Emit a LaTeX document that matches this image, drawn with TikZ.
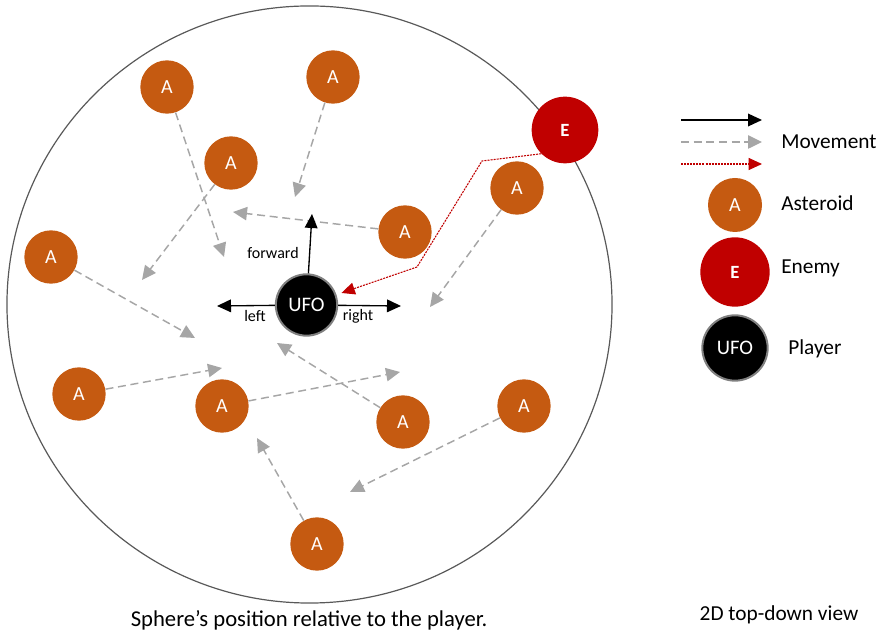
\documentclass[tikz,border=0pt]{standalone}
\usepackage{fontspec}
\setmainfont{Carlito}
\usepackage{xcolor}
\usepackage{tikz}
\usetikzlibrary{arrows.meta}

\definecolor{astorange}{HTML}{C55A11}
\definecolor{enemyred}{HTML}{C00000}
\definecolor{movegray}{HTML}{A6A6A6}
\definecolor{ringgray}{HTML}{595959}
\newcommand{\lgfont}{\fontsize{16}{19}\selectfont}

\begin{document}
\begin{tikzpicture}[x=0.75pt, y=-0.75pt,
  asteroid/.style={circle, fill=astorange, inner sep=0pt, minimum size=40pt, text=white, font=\fontsize{15}{18}\selectfont},
  enemy/.style={circle, fill=enemyred, inner sep=0pt, minimum size=50pt, text=white, font=\fontsize{14}{17}\selectfont\bfseries},
  player/.style={circle, fill=black, draw=gray, line width=1.5pt, inner sep=0pt, minimum size=46pt, text=white, font=\fontsize{15.5}{18}\selectfont},
  grayarrow/.style={movegray, line width=1.1pt, dash pattern=on 6pt off 3.5pt, -{Triangle[length=10.5pt, width=10pt]}},
  redarrow/.style={enemyred, line width=0.8pt, dash pattern=on 1.5pt off 0.8pt, -{Triangle[length=10pt, width=9pt]}},
  blackarrow/.style={black, line width=1pt, -{Triangle[length=10.5pt, width=9.5pt]}},
  dirlabel/.style={font=\fontsize{12}{14}\selectfont},
  lglabel/.style={anchor=west, inner sep=0pt, font=\lgfont}]
  \useasboundingbox (0,0) rectangle (876,630);

  % Sphere around the player
  \draw[ringgray, line width=0.9pt] (309.5,304.5) ellipse [x radius=226.9pt, y radius=223.9pt];

  % Asteroids
  \node[asteroid] (a1) at (167,87) {A};
  \node[asteroid] (a2) at (333,77) {A};
  \node[asteroid] (a3) at (231,163) {A};
  \node[asteroid] (a4) at (517,188) {A};
  \node[asteroid] (a5) at (405,232) {A};
  \node[asteroid] (a6) at (51,257) {A};
  \node[asteroid] (a7) at (79,394) {A};
  \node[asteroid] (a8) at (222,406) {A};
  \node[asteroid] (a9) at (403,422) {A};
  \node[asteroid] (a10) at (524,406) {A};
  \node[asteroid] (a11) at (317,544) {A};

  % Enemy and player
  \node[enemy] (enemy) at (565,130) {E};
  \node[player] (ufo) at (306.5,305) {UFO};

  % Asteroid movement
  \coordinate (t1) at (224,257);
  \coordinate (t2) at (295,197);
  \coordinate (t3) at (142,280);
  \coordinate (t4) at (430,307);
  \coordinate (t5) at (233,212);
  \coordinate (t6) at (195,338);
  \coordinate (t7) at (222,368);
  \coordinate (t8) at (400,372);
  \coordinate (t9) at (277,343);
  \coordinate (t10) at (350,492);
  \coordinate (t11) at (257,438);
  \foreach \i in {1,...,11}
    \draw[grayarrow] (a\i) -- (t\i);

  % Enemy chasing the player
  \coordinate (bend1) at (482,161);
  \coordinate (bend2) at (417,267);
  \draw[redarrow, shorten >=4pt] (enemy.south west) -- (bend1) -- (bend2) -- (ufo);

  % Player directions
  \coordinate (fwd) at (312,214);
  \coordinate (lft) at (217,306);
  \coordinate (rgt) at (401,306);
  \draw[blackarrow] (ufo) -- (fwd);
  \draw[blackarrow] (ufo) -- (lft);
  \draw[blackarrow] (ufo) -- (rgt);
  \node[dirlabel] (fwdlabel) at (273,253) {forward};
  \node[dirlabel] (lftlabel) at (255,316) {left};
  \node[dirlabel] (rgtlabel) at (358,316) {right};

  % Legend
  \coordinate (lg1a) at (681,120); \coordinate (lg1b) at (762,120);
  \coordinate (lg2a) at (681,142); \coordinate (lg2b) at (762,142);
  \coordinate (lg3a) at (681,164); \coordinate (lg3b) at (762,164);
  \draw[blackarrow] (lg1a) -- (lg1b);
  \draw[grayarrow] (lg2a) -- (lg2b);
  \draw[redarrow] (lg3a) -- (lg3b);
  \node[lglabel] (lgmove) at (781,142) {Movement};
  \node[asteroid, minimum size=40.5pt] (lgast) at (735,205) {A};
  \node[lglabel] (lgastlabel) at (781,203) {Asteroid};
  \node[enemy, minimum size=52pt] (lgenemy) at (735,272) {E};
  \node[lglabel] (lgenemylabel) at (781,268) {Enemy};
  \node[player, minimum size=49pt] (lgufo) at (735,348) {UFO};
  \node[lglabel] (lgufolabel) at (788,349) {Player};

  % Captions
  \node[font=\fontsize{17}{20}\selectfont] (caption) at (309,620) {Sphere’s position relative to the player.};
  \node[font=\lgfont] (viewlabel) at (779,615) {2D top-down view};
\end{tikzpicture}
\end{document}
